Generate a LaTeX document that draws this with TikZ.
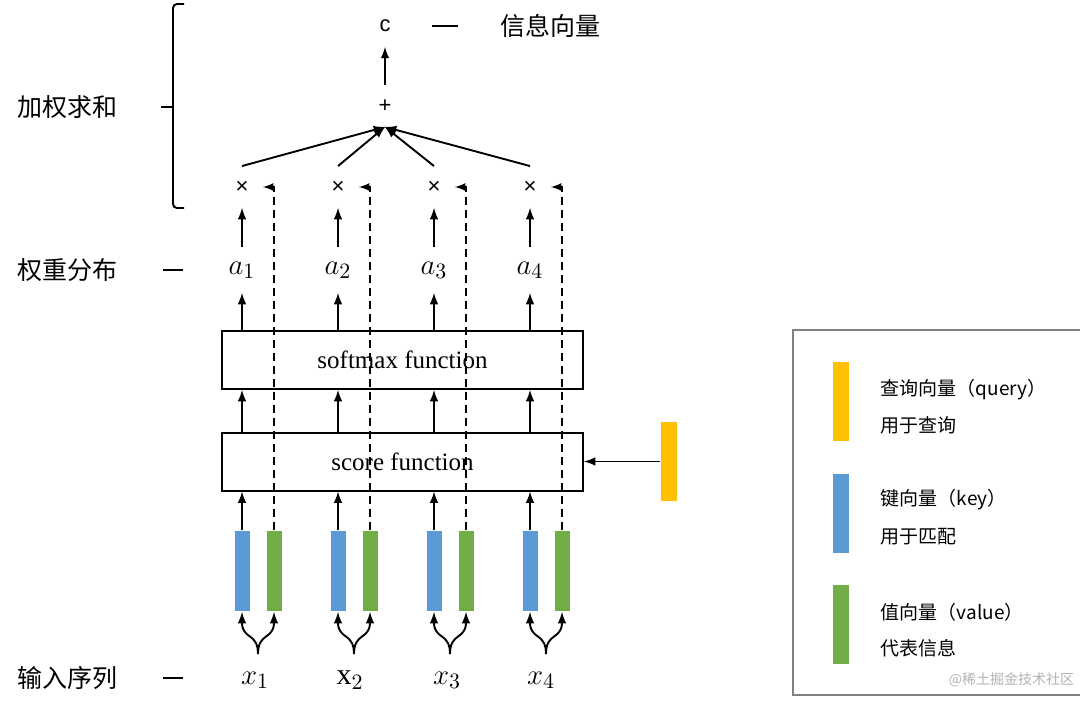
\documentclass[tikz,border=0pt]{standalone}
\usepackage{fontspec}
\setmainfont{Liberation Serif}
\newfontfamily\cjk{Noto Sans CJK SC}
\newfontfamily\sansf{Liberation Sans}
\definecolor{keyblue}{HTML}{5B9BD5}
\definecolor{valgreen}{HTML}{70AD47}
\definecolor{qorange}{HTML}{FFC000}
\tikzset{>=latex}
\tikzset{
  funcbox/.style = {draw, line width=1pt, minimum width=180.5pt,
    minimum height=29pt, font=\fontsize{12.5}{15}\selectfont},
  bar/.style     = {minimum width=7.5pt, minimum height=40pt, inner sep=0pt},
  keybar/.style  = {bar, fill=keyblue},
  valbar/.style  = {bar, fill=valgreen},
  qbar/.style    = {bar, fill=qorange, minimum width=8pt, minimum height=39.5pt},
  cnlabel/.style = {anchor=west, inner sep=0pt, font=\cjk\fontsize{12.5}{15}\selectfont},
  legtext/.style = {anchor=west, inner sep=0pt, font=\cjk\fontsize{9.5}{12}\selectfont},
  op/.style      = {minimum size=20pt, inner sep=0pt, font=\sansf\fontsize{11}{12}\selectfont},
  weight/.style  = {minimum height=22pt, inner sep=0pt, font=\fontsize{15}{17}\selectfont}
}

\begin{document}
\begin{tikzpicture}[x=0.5pt, y=-0.5pt, line width=0.95pt]
  \useasboundingbox (0,0) rectangle (1080,706);
  % left labels
  \node[cnlabel] (sumlab) at (17,107) {加权求和};
  \node[cnlabel] (wlab)   at (17,270) {权重分布};
  \node[cnlabel] (inlab)  at (17,678) {输入序列};
  \draw (163,270) -- (183,270);
  \draw (163,678) -- (183,678);
  \draw[rounded corners=2pt] (184,4) -- (173,4) -- (173,208) -- (184,208);
  \draw (161,107) -- (173,107);
  % boxes
  \node[funcbox] (softmax) at (402.5,360) {softmax function};
  \node[funcbox] (score)   at (402.5,461.5) {score function};
  \node[qbar] (query) at (669,461.5) {};
  \draw[->] (query.west) -- (score.east);
  % top
  \node[op] (plus) at (385,106) {+};
  \node[op] (cvec) at (385,26) {c};
  \draw[->] (plus.north) -- (cvec.south);
  \draw (432,26) -- (458,26);
  \node[cnlabel] (clab) at (500,26) {信息向量};
  % columns
  \foreach \i/\x/\lab/\lx in {1/242/x_1/255, 2/338/\mathrm{x}_2/350,
                              3/434/x_3/447, 4/530/x_4/541} {
    \node[keybar] (k\i) at (\x,571) {};
    \node[valbar] (v\i) at (\x+32,571) {};
    \node[weight] (a\i) at (\x,270) {$a_\i$};
    \node[op] (m\i) at (\x,187) {×};
    \node[weight] (x\i) at (\lx,680) {$\lab$};
    \coordinate (f\i) at (\x+16,654);
    \draw[->] (f\i) .. controls (\x+16,632) and (\x,640) .. (k\i.south);
    \draw[->] (f\i) .. controls (\x+16,632) and (\x+32,640) .. (v\i.south);
    \draw[->] (k\i.north) -- (k\i.north |- score.south);
    \draw[->] (score.north -| k\i) -- (softmax.south -| k\i);
    \draw[->] (softmax.north -| k\i) -- (a\i.south);
    \draw[->] (a\i.north) -- (m\i.south);
    \draw[->, line width=0.8pt, dash pattern=on 4pt off 2.5pt] (v\i.north) |- (m\i.east);
    \draw[->] (m\i.north) -- (plus.south);
  }
  % legend
  \draw[gray, line width=0.6pt] (1080,330) -| (793,695) -- (1080,695);
  \node[qbar] (lq) at (841,401.5) {};
  \node[keybar, minimum width=8pt, minimum height=39.5pt] (lk) at (841,513.5) {};
  \node[valbar, minimum width=8pt, minimum height=39.5pt] (lv) at (841,624.5) {};
  \node[legtext] (lq1) at (880,390) {查询向量（query）};
  \node[legtext] (lq2) at (880,425) {用于查询};
  \node[legtext] (lk1) at (880,500) {键向量（key）};
  \node[legtext] (lk2) at (880,537) {用于匹配};
  \node[legtext] (lv1) at (880,612) {值向量（value）};
  \node[legtext] (lv2) at (880,648) {代表信息};
  \node[anchor=west, inner sep=0pt, text=gray!60, font=\cjk\fontsize{7}{8}\selectfont]
    (mark) at (948,680) {@稀土掘金技术社区};
\end{tikzpicture}
\end{document}
